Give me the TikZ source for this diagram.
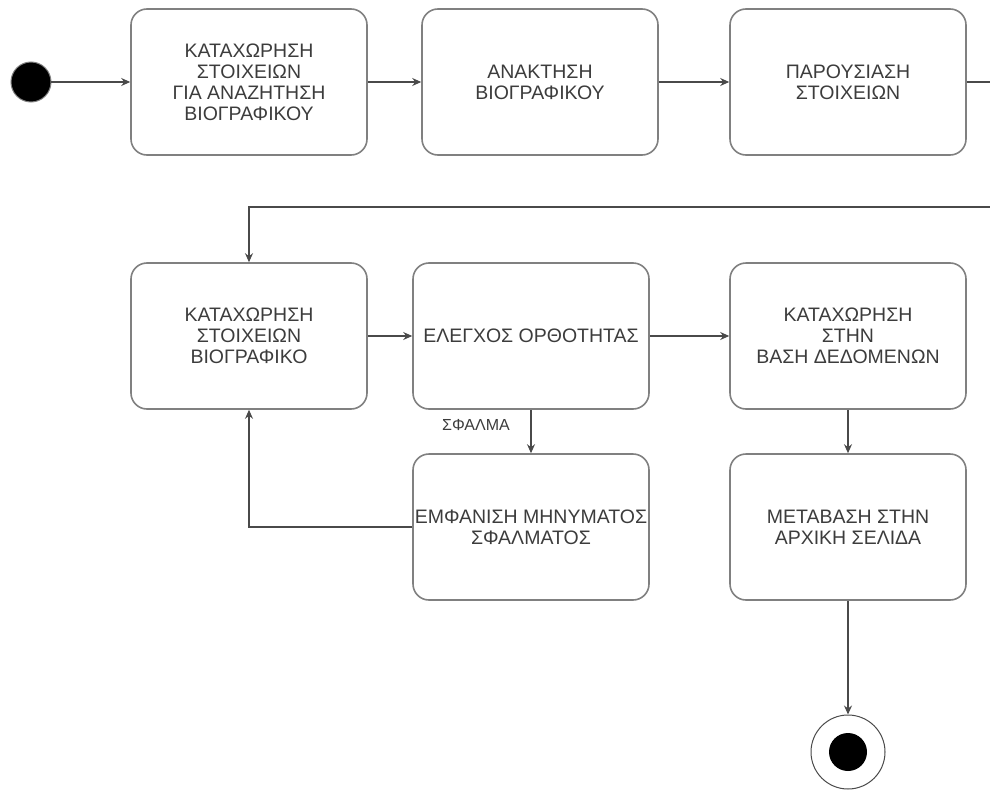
\documentclass[tikz,border=0pt]{standalone}
\usepackage{fontspec}
\setmainfont{Liberation Sans}
\usetikzlibrary{positioning,arrows.meta}

\definecolor{boxline}{HTML}{808080}
\definecolor{wire}{HTML}{4A4A4A}
\definecolor{txt}{HTML}{3C3C3C}

\tikzset{
  state/.style={draw=boxline, line width=1.6pt, rounded corners=16pt,
    minimum width=236pt, minimum height=146pt, align=center,
    text=txt, font=\fontsize{19.5}{21}\selectfont, inner sep=0pt},
  flow/.style={draw=wire, line width=1.3pt, -{Stealth[length=9pt,width=8pt]}},
  wireline/.style={draw=wire, line width=1.3pt}
}

\begin{document}
\begin{tikzpicture}[x=1pt,y=-1pt]
  \useasboundingbox (0,0) rectangle (990,792);

  % start
  \fill[black, draw=boxline, line width=1pt] (31,82) circle (20pt);
  \node[circle, minimum size=40pt, inner sep=0pt] (start) at (31,82) {};

  % row 1
  \node[state] (enter) at (249,82) {ΚΑΤΑΧΩΡΗΣΗ\\ΣΤΟΙΧΕΙΩΝ\\ΓΙΑ ΑΝΑΖΗΤΗΣΗ\\ΒΙΟΓΡΑΦΙΚΟΥ};
  \node[state] (fetch) at (540,82) {ΑΝΑΚΤΗΣΗ\\ΒΙΟΓΡΑΦΙΚΟΥ};
  \node[state] (show) at (848,82) {ΠΑΡΟΥΣΙΑΣΗ\\ΣΤΟΙΧΕΙΩΝ};
  \coordinate (rout) at (990,82);
  \coordinate (rin) at (990,207);

  % row 2
  \node[state] (cvdata) at (249,336) {ΚΑΤΑΧΩΡΗΣΗ\\ΣΤΟΙΧΕΙΩΝ\\ΒΙΟΓΡΑΦΙΚΟ};
  \node[state] (check) at (531,336) {ΕΛΕΓΧΟΣ ΟΡΘΟΤΗΤΑΣ};
  \node[state] (store) at (848,336) {ΚΑΤΑΧΩΡΗΣΗ\\ΣΤΗΝ\\ΒΑΣΗ ΔΕΔΟΜΕΝΩΝ};

  % row 3
  \node[state] (errmsg) at (531,527) {ΕΜΦΑΝΙΣΗ ΜΗΝΥΜΑΤΟΣ\\ΣΦΑΛΜΑΤΟΣ};
  \node[state] (home) at (848,527) {ΜΕΤΑΒΑΣΗ ΣΤΗΝ\\ΑΡΧΙΚΗ ΣΕΛΙΔΑ};

  % end
  \node[circle, draw=wire, line width=1pt, minimum size=74pt, inner sep=0pt] (stop) at (848,752) {};
  \fill[black] (stop.center) circle (19pt);

  % transitions
  \draw[flow] (start) -- (enter);
  \draw[flow] (enter) -- (fetch);
  \draw[flow] (fetch) -- (show);
  \draw[wireline] (show.east) -- (rout);
  \draw[flow] (rin) -| (cvdata.north);
  \draw[flow] (cvdata) -- (check);
  \draw[flow] (check) -- (store);
  \draw[flow] (check.south) -- (errmsg.north);
  \node[text=txt, font=\fontsize{16}{16}\selectfont] (errlbl) at (476,425) {ΣΦΑΛΜΑ};
  \draw[flow] (errmsg.west) -| (cvdata.south);
  \draw[flow] (store.south) -- (home.north);
  \draw[flow] (home.south) -- (stop.north);
\end{tikzpicture}
\end{document}
